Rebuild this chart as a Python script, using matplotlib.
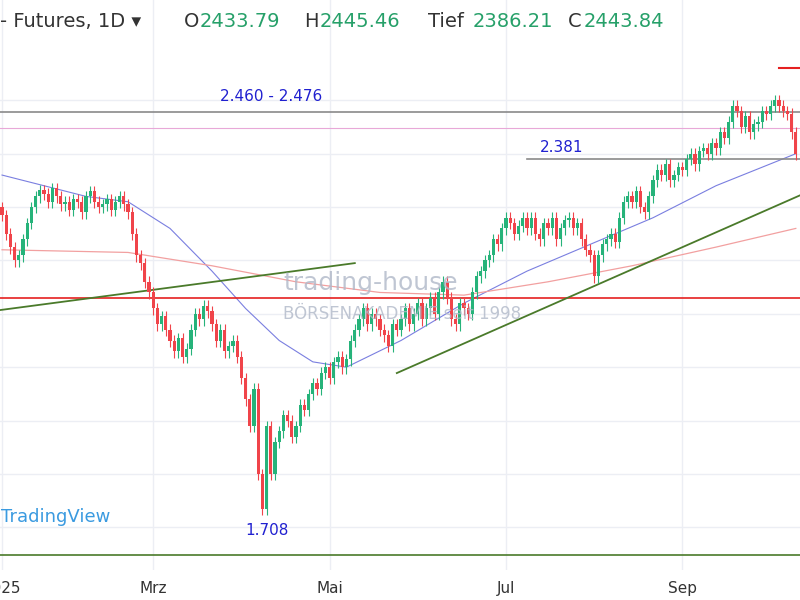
import matplotlib
matplotlib.use("Agg")
import matplotlib.pyplot as plt
import numpy as np

closes = [2275,2240,2215,2190,2200, 2230,2260,2290,2310,2322, 2315,2300,2325,2310,2295,
 2300,2285,2305,2300,2280, 2310,2320,2300,2290,2295, 2305,2285,2300,2310,2295,
 2280,2240,2200,2185,2150, 2130,2100,2070,2085,2060, 2040,2020,2045,2010,2025,
 2060,2090,2080,2105,2095, 2070,2040,2060,2020,2030, 2040,2010,1970,1930,1880,
 1950,1790,1725,1880,1790, 1850,1870,1900,1890,1860, 1880,1920,1910,1940,1960,
 1950,1980,1990,1970,2000, 2010,1990,2005,2040,2060, 2080,2100,2070,2090,2080,
 2060,2050,2030,2070,2060, 2080,2100,2070,2090,2110, 2080,2100,2120,2090,2130,
 2150,2120,2080,2070,2110, 2100,2090,2130,2160,2170, 2190,2200,2230,2220,2250,
 2270,2260,2240,2255,2270, 2250,2270,2240,2230,2260, 2250,2270,2230,2250,2265,
 2270,2250,2260,2230,2210, 2200,2160,2200,2220,2230, 2240,2225,2270,2300,2310,
 2300,2320,2290,2280,2310, 2340,2360,2350,2370,2340, 2350,2365,2360,2380,2390,
 2370,2395,2400,2390,2410, 2400,2430,2420,2450,2480, 2470,2440,2460,2430,2445,
 2450,2470,2465,2480,2490, 2480,2470,2465,2430,2390]
first_open = 2290
ma50_idx = [0, 10, 20, 30, 40, 50, 58, 66, 74, 82, 95, 110, 125, 140, 155, 170, 189]
ma50_val = [2350, 2330, 2310, 2300, 2250, 2170, 2100, 2040, 2000, 1990, 2040, 2110, 2170, 2220, 2270, 2330, 2390]
ma200_idx = [0, 30, 50, 70, 90, 110, 130, 150, 170, 189]
ma200_val = [2210, 2205, 2180, 2150, 2130, 2125, 2150, 2180, 2215, 2250]
month_pos = [0, 36, 78, 120, 162]
month_lab = ["2025", "Mrz", "Mai", "Jul", "Sep"]

fig = plt.figure(figsize=(8, 6), dpi=100)
ax = fig.add_axes([0, 0.05, 1, 0.95])
fig.patch.set_facecolor("white")
ax.set_xlim(-0.48, 190)
ax.set_ylim(1610, 2678)

for y in [2490, 2390, 2290, 2190, 2090, 1990, 1890, 1790, 1690]:
    ax.axhline(y, color="#eceef4", lw=1, zorder=0)
for p in month_pos:
    ax.axvline(p, color="#eceef4", lw=1, zorder=0)

up, dn = "#26b37a", "#f0444a"
opens = [first_open] + closes[:-1]
for i, (o, c) in enumerate(zip(opens, closes)):
    col = up if c >= o else dn
    ax.vlines(i, min(o, c) - 12, max(o, c) + 10, color=col, lw=0.8, zorder=3)
    ax.bar(i, max(abs(c - o), 2), bottom=min(o, c), width=0.75, color=col, zorder=3)

ax.plot(ma50_idx, ma50_val, color="#7a7fe0", lw=0.8, zorder=2)
ax.plot(ma200_idx, ma200_val, color="#f2a0a0", lw=0.9, zorder=2)

ax.axhline(2468, color="#8a8a8a", lw=1.2)
ax.axhline(2438, color="#e8a8d8", lw=0.8)
ax.plot([125, 190], [2381, 2381], color="#8a8a8a", lw=1.2)
ax.axhline(2120, color="#e52020", lw=1.2)
ax.plot([185, 190], [2550, 2550], color="#e52020", lw=1.5)
ax.axhline(1638, color="#4a7a2a", lw=1.2)
ax.plot([-0.5, 84], [2097, 2185], color="#4a7a2a", lw=1.3)
ax.plot([94, 190], [1979, 2312], color="#4a7a2a", lw=1.3)

ax.text(52, 2488, "2.460 - 2.476", color="#2020d0", fontsize=11)
ax.text(128, 2393, "2.381", color="#2020d0", fontsize=11)
ax.text(58, 1675, "1.708", color="#2020d0", fontsize=11)
ax.text(67, 2135, "trading-house", color="#b0b8c8", fontsize=18, alpha=0.8)
ax.text(67, 2080, "BÖRSENAKADEMIE seit 1998", color="#b0b8c8", fontsize=12, alpha=0.8)
ax.text(-0.3, 1700, "TradingView", color="#3a9ae0", fontsize=13)

ax.set_xticks(month_pos)
ax.set_xticklabels(month_lab, fontsize=11, color="#333333")
ax.tick_params(axis="x", length=0, pad=8)
ax.set_yticks([])
for s in ax.spines.values():
    s.set_visible(False)

fig.text(0.0, 0.955, "- Futures, 1D ▾", fontsize=14, color="#333333")
hdr = [("O", "2433.79", 0.23), ("H", "2445.46", 0.38), ("Tief", "2386.21", 0.535), ("C", "2443.84", 0.71)]
for lab, val, xx in hdr:
    fig.text(xx, 0.955, lab, fontsize=14, color="#333333")
    fig.text(xx + 0.012 * len(lab) + 0.008, 0.955, val, fontsize=14, color="#26a069")

fig.savefig("out.png", dpi=100)
